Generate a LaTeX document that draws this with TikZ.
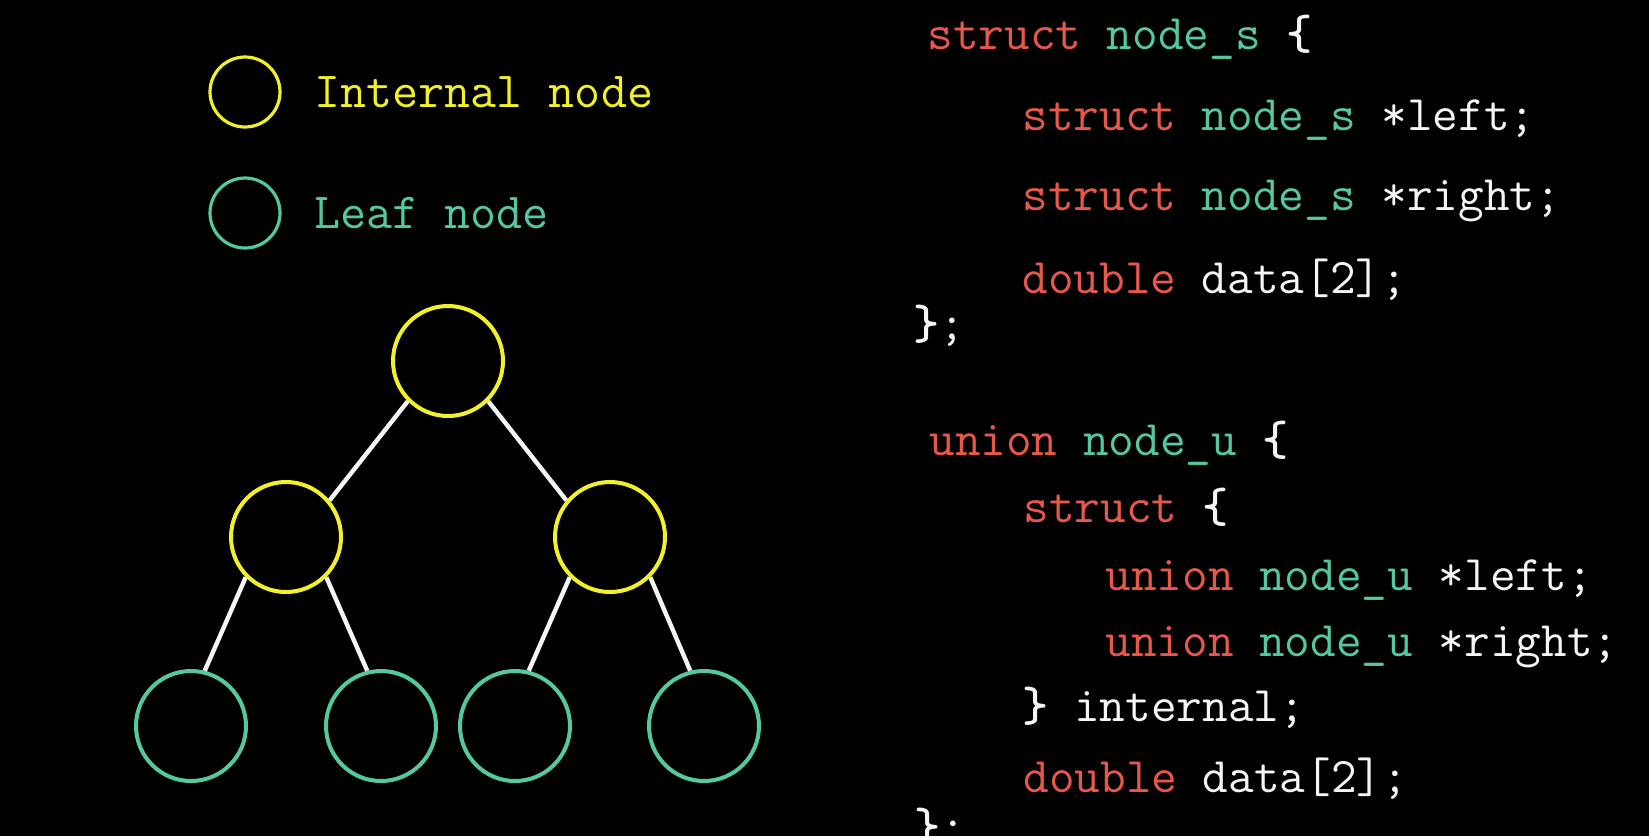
\documentclass[tikz,border=0pt]{standalone}
\usepackage{tikz}
\usepackage{xcolor}
\definecolor{nodeyellow}{RGB}{242,240,40}
\definecolor{leafteal}{RGB}{84,200,164}
\definecolor{kwred}{RGB}{232,88,74}
\definecolor{codewhite}{RGB}{245,245,245}

\begin{document}
\begin{tikzpicture}[x=0.5pt,y=-0.5pt,
    inner/.style={circle,draw=nodeyellow,line width=2pt,minimum size=55pt,inner sep=0pt},
    leaf/.style={circle,draw=leafteal,line width=2pt,minimum size=55pt,inner sep=0pt},
    keycirc/.style={circle,line width=1.6pt,minimum size=35pt,inner sep=0pt},
    code/.style={anchor=base west,inner sep=0pt,text=codewhite,font=\fontsize{24.9}{29}\selectfont\ttfamily},
    keytext/.style={code,font=\fontsize{25.3}{29}\selectfont\ttfamily},
    link/.style={draw=codewhite,line width=2.2pt}]
        \clip (0,0) rectangle (1649,836);
        \fill[black] (0,0) rectangle (1649,836);
        \node[keycirc,draw=nodeyellow] (ik) at (245,92) {};
        \node[keycirc,draw=leafteal] (lk) at (245,213) {};
        \node[keytext,text=nodeyellow] (it) at (314,107) {Internal node};
        \node[keytext,text=leafteal] (lt) at (314,228) {Leaf node};
        \node[inner] (r) at (448,361) {};
        \node[inner] (a) at (286,537) {};
        \node[inner] (b) at (610,537) {};
        \node[leaf] (c) at (191,726) {};
        \node[leaf] (d) at (381,726) {};
        \node[leaf] (e) at (515,726) {};
        \node[leaf] (f) at (704,726) {};
        \draw[link] (r.south west) -- (a.40);
        \draw[link] (r.south east) -- (b.140);
        \draw[link] (a.south west) -- (c.76);
        \draw[link] (a.south east) -- (d.104);
        \draw[link] (b.south west) -- (e.76);
        \draw[link] (b.south east) -- (f.104);
        \node[code] (s1) at (927,49) {\textcolor{kwred}{struct} \textcolor{leafteal}{node\_s} \textbf{\{}};
        \node[code] (s2) at (1022,130) {\textcolor{kwred}{struct} \textcolor{leafteal}{node\_s} *left;};
        \node[code] (s3) at (1022,210) {\textcolor{kwred}{struct} \textcolor{leafteal}{node\_s} *right;};
        \node[code] (s4) at (1022,293) {\textcolor{kwred}{double} data[2];};
        \node[code] (s5) at (913,339) {\textbf{\}};};
        \node[code] (u1) at (929,455) {\textcolor{kwred}{union} \textcolor{leafteal}{node\_u} \textbf{\{}};
        \node[code] (u2) at (1023,522) {\textcolor{kwred}{struct} \textbf{\{}};
        \node[code] (u3) at (1105,590) {\textcolor{kwred}{union} \textcolor{leafteal}{node\_u} *left;};
        \node[code] (u4) at (1105,656) {\textcolor{kwred}{union} \textcolor{leafteal}{node\_u} *right;};
        \node[code] (u5) at (1022,721) {\textbf{\}} internal;};
        \node[code] (u6) at (1023,792) {\textcolor{kwred}{double} data[2];};
        \node[code] (u7) at (914,842) {\textbf{\}};};
      \end{tikzpicture}
\end{document}
